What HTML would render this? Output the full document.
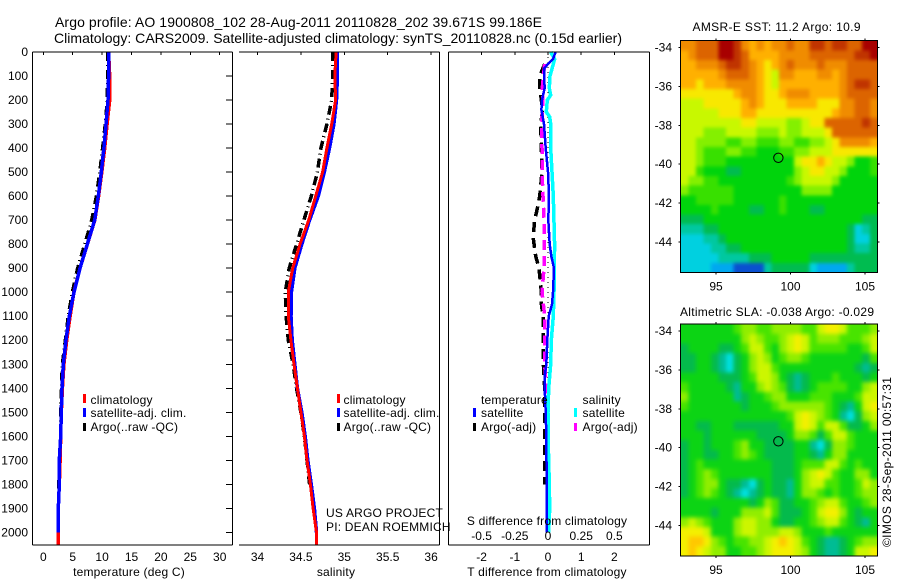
<!DOCTYPE html>
<html>
<head>
<meta charset="utf-8">
<title>Argo profile</title>
<style>
html,body{margin:0;padding:0;background:#fff;}
svg{display:block;font-family:"Liberation Sans",sans-serif;font-size:12px;fill:#000;}
.wide{letter-spacing:0.2px;}
</style>
</head>
<body>
<svg id="chart" xmlns="http://www.w3.org/2000/svg" width="900" height="580" viewBox="0 0 900 580">
<rect x="0" y="0" width="900" height="580" fill="#fff"/>
<text x="55" y="27" font-size="14" textLength="487" lengthAdjust="spacing">Argo profile: AO 1900808_102 28-Aug-2011 20110828_202 39.671S 99.186E</text>
<text x="54" y="43" font-size="14" textLength="568" lengthAdjust="spacing">Climatology: CARS2009. Satellite-adjusted climatology: synTS_20110828.nc (0.15d earlier)</text>
<g id="plots"></g>
<text class="wide" x="129" y="576" text-anchor="middle">temperature (deg C)</text>
<text class="wide" x="336" y="576" text-anchor="middle">salinity</text>
<text class="wide" x="547" y="576" text-anchor="middle">T difference from climatology</text>
<text class="wide" x="547" y="525" text-anchor="middle">S difference from climatology</text>

<g class="wide">
<rect x="83" y="394" width="3" height="9" fill="#ff0000"/>
<text x="90.5" y="404">climatology</text>
<rect x="83" y="408" width="3" height="9" fill="#0000ff"/>
<text x="90.5" y="417">satellite-adj. clim.</text>
<rect x="83" y="423" width="3" height="8" fill="#000"/>
<text x="90.5" y="431">Argo(..raw -QC)</text>
</g>
<g class="wide">
<rect x="337" y="394" width="3" height="9" fill="#ff0000"/>
<text x="343.5" y="404">climatology</text>
<rect x="337" y="408" width="3" height="9" fill="#0000ff"/>
<text x="343.5" y="417">satellite-adj. clim.</text>
<rect x="337" y="423" width="3" height="8" fill="#000"/>
<text x="343.5" y="431">Argo(..raw -QC)</text>
</g>
<g class="wide">
<text x="481" y="404">temperature</text>
<text x="582.5" y="404">salinity</text>
<rect x="473" y="408" width="3" height="9" fill="#0000ff"/>
<text x="481" y="417">satellite</text>
<rect x="473" y="423" width="3" height="8" fill="#000"/>
<text x="481" y="431">Argo(-adj)</text>
<rect x="574" y="408" width="3" height="9" fill="#00ffff"/>
<text x="582.5" y="417">satellite</text>
<rect x="574" y="423" width="3" height="8" fill="#ff00ff"/>
<text x="582.5" y="431">Argo(-adj)</text>
</g>
<text class="wide" x="326" y="517">US ARGO PROJECT</text>
<text class="wide" x="326" y="531">PI: DEAN ROEMMICH</text>
<text x="692.5" y="31" textLength="168" lengthAdjust="spacing">AMSR-E SST: 11.2 Argo: 10.9</text>
<text x="680" y="316" textLength="194" lengthAdjust="spacing">Altimetric SLA: -0.038 Argo: -0.029</text>
<text transform="translate(891,547) rotate(-90)" textLength="170" lengthAdjust="spacing">©IMOS 28-Sep-2011 00:57:31</text>
</svg>
<script>
// ---- profile data ----
const depthTicks = [0,100,200,300,400,500,600,700,800,900,1000,1100,1200,1300,1400,1500,1600,1700,1800,1900,2000];
const tempTicks = [0,5,10,15,20,25,30];
const salTicks = [34,34.5,35,35.5,36];
const salTickLabels = ['34','34.5','35','35.5','36'];
const tDiffTicks = [-2,-1,0,1,2];
const sDiffTicks = [-0.5,-0.25,0,0.25,0.5];
const sDiffTickLabels = ['-0.5','-0.25','0','0.25','0.5'];

const profileDepths = [0,100,200,300,400,500,600,700,800,900,1000,1100,1200,1300,1400,1500,1600,1700,1800,1900,2000,2050];
const tempClim = [11.1,11.3,11.3,10.85,10.45,9.95,9.4,8.75,7.5,6.25,5.2,4.55,3.98,3.5,3.25,3.06,2.96,2.85,2.72,2.55,2.55,2.55];
const tempSat = [11.17,11.1,11.0,10.66,10.3,9.87,9.36,8.74,7.49,6.24,5.22,4.43,3.86,3.4,3.18,3.06,2.96,2.72,2.72,2.55,2.55];
const tempArgo = [10.95,10.9,10.85,10.5,10.05,9.55,9.0,8.2,7.0,5.8,4.9,4.2,3.7,3.2,3.05,2.9,2.9,2.75,2.6,2.55];
const salClim = [34.905,34.89,34.9,34.855,34.80,34.75,34.67,34.59,34.49,34.405,34.355,34.355,34.385,34.42,34.46,34.50,34.54,34.57,34.61,34.64,34.68,34.68];
const salSat = [34.92,34.92,34.91,34.88,34.83,34.77,34.70,34.60,34.51,34.43,34.39,34.386,34.40,34.43,34.46,34.51,34.55,34.58,34.62,34.655,34.68];
const salArgo = [34.866,34.866,34.855,34.80,34.73,34.69,34.62,34.535,34.45,34.365,34.32,34.33,34.355,34.41,34.45,34.50,34.54,34.57,34.6];

const tSatDepths = [0,30,50,70,100,150,200,240,300,400,500,600,700,800,850,900,1000,1050,1100,1200,1300,1350,1400,1500,1600,1800,2000];
const tSatDiff = [0.23,0.15,0,-0.12,-0.12,-0.1,-0.18,-0.2,-0.12,-0.07,0,0.03,0.01,0.05,0.1,0.18,0.15,0.12,0.02,-0.02,-0.05,-0.1,-0.1,-0.07,-0.05,-0.04,-0.04];
const sSatDepths = [0,30,50,70,100,150,180,200,250,270,300,400,500,600,800,1000,1100,1200,1300,1400,1500,1600,1700,1800,1900,2000];
const sSatDiff = [0.02,0.05,0.04,0.03,0.015,0.01,0.02,-0.005,-0.0125,0.0125,0.02,0.02,0.03,0.04,0.05,0.045,0.04,0.025,0.02,0.005,0,0,0.005,0.01,0.0125,0.005];
const tArgoDepths = [50,100,150,200,250,300,400,500,600,650,700,770,850,900,1000,1050,1100,1200,1300,1400,1500,1600,1800];
const tArgoDiff = [-0.1,-0.25,-0.25,-0.2,-0.17,-0.22,-0.2,-0.18,-0.25,-0.32,-0.4,-0.45,-0.37,-0.27,-0.2,-0.2,-0.15,-0.14,-0.14,-0.1,-0.1,-0.1,-0.1];
const sArgoDepths = [50,100,150,200,250,300,400,500,600,700,800,900,1000,1100,1200,1300,1400,1500,1600];
const sArgoDiff = [-0.025,-0.035,-0.043,-0.038,-0.043,-0.05,-0.045,-0.045,-0.038,-0.03,-0.03,-0.03,-0.045,-0.025,-0.025,-0.025,-0.0125,-0.0075,-0.005];
const zeroLineDepths = [0,1400];
const zeroLineValues = [0,0];

// ---- map data (colour levels) ----
const lonTicks = [95,100,105];
const latTicks = [-34,-36,-38,-40,-42,-44];
const mapLonEdges = [92.63,105.83];
const mapLatEdges = [-33.65,-45.57];
const argoLon = [99.186];
const argoLat = [-39.671];
const sstLevels = [
[11,11,12,12,12,14,14,13,11,10,11,10,11,11,12,11,11,13,13,12,13,13,12,12,14,14],
[10,11,12,12,12,14,14,13,12,10,10,10,10,11,11,11,11,12,12,12,12,12,12,13,13,14],
[10,10,11,11,11,12,13,13,12,11,10,9,10,11,12,11,11,11,12,11,11,11,12,12,12,12],
[10,10,10,10,10,11,12,12,12,11,10,9,8,11,11,10,10,10,11,11,10,11,12,12,12,12],
[10,10,9,10,10,10,11,11,11,11,10,9,8,10,10,10,10,10,10,10,10,11,12,13,13,12],
[9,9,9,9,9,9,9,10,11,11,10,9,9,10,11,11,11,10,10,10,10,11,12,12,12,12],
[8,8,8,9,9,9,9,9,10,11,10,9,9,9,10,10,10,10,9,9,9,11,11,12,12,11],
[8,8,8,8,8,9,9,9,10,10,9,9,9,9,9,9,9,9,9,9,10,11,11,12,12,11],
[8,8,8,8,8,8,8,8,9,9,8,8,8,8,7,7,8,9,9,12,12,12,12,12,13,12],
[8,8,8,7,7,7,8,8,8,8,7,7,7,8,7,7,8,8,8,9,12,12,12,12,12,12],
[8,8,7,7,7,7,6,6,7,7,6,6,6,7,7,6,6,7,7,8,9,11,11,11,11,10],
[8,8,7,6,6,6,7,7,6,6,5,5,5,6,6,7,7,8,8,8,9,9,9,9,9,9],
[8,8,7,6,6,6,5,5,5,5,5,5,5,5,5,8,9,9,10,9,8,8,7,5,5,6],
[8,8,6,5,5,5,4,4,5,5,5,5,5,5,5,7,8,9,9,8,8,7,5,5,5,6],
[8,7,7,6,6,5,5,5,5,5,5,5,5,5,6,7,8,8,8,8,7,5,5,5,5,5],
[7,6,6,6,6,6,6,5,5,5,5,5,5,5,5,5,7,7,7,7,5,5,5,5,5,5],
[5,5,6,6,6,6,6,5,5,5,5,5,5,6,5,5,5,5,5,5,5,5,5,5,5,5],
[5,5,5,5,6,5,5,5,5,4,4,5,5,6,5,5,5,4,4,5,5,5,5,5,5,5],
[4,4,4,5,5,5,5,5,5,5,5,5,5,5,5,5,5,5,5,5,5,5,5,5,4,4],
[3,3,3,4,4,5,5,5,5,5,5,5,5,5,5,5,5,5,5,5,5,5,4,2,3,4],
[2,2,2,3,3,4,5,5,5,5,5,5,5,5,5,5,5,5,5,5,5,5,4,2,2,4],
[2,2,2,2,3,3,4,4,5,5,5,5,5,5,5,5,5,5,5,5,5,5,4,3,3,4],
[2,2,2,2,2,3,3,3,3,4,4,4,5,5,5,5,5,4,4,4,4,4,4,4,4,4],
[2,2,2,2,1,1,1,0,0,0,0,3,4,4,4,4,4,2,1,1,1,1,3,4,4,4]
];
const slaLevels = [
[5,5,5,5,5,5,5,6,7,7,6,6,7,7,7,7,6,6,8,9,9,8,6,6,6,7],
[5,5,5,5,5,5,5,5,7,8,7,6,6,7,8,9,8,6,7,7,7,6,6,6,7,8],
[4,5,5,5,5,4,4,5,6,8,8,6,5,7,8,9,8,6,6,6,6,6,5,5,6,8],
[4,4,5,5,4,3,2,4,5,7,8,7,5,6,7,7,6,5,5,5,5,5,5,5,4,6],
[4,4,5,5,4,3,2,4,5,7,8,8,6,5,5,5,5,5,5,5,5,5,5,4,3,4],
[5,5,5,5,5,4,4,4,5,6,8,8,7,5,4,3,4,5,5,5,6,5,5,5,4,5],
[6,5,5,5,5,5,4,3,5,5,7,8,7,6,4,3,4,5,6,6,6,6,5,5,7,8],
[7,5,5,5,5,5,5,3,4,5,5,6,7,7,5,5,5,6,6,6,5,5,5,6,8,8],
[6,5,5,5,5,5,5,5,4,5,5,5,6,7,7,7,7,7,7,6,5,4,3,5,8,9],
[5,5,5,5,5,5,5,5,5,5,5,5,5,5,6,8,9,8,7,6,5,3,2,4,7,8],
[5,5,4,4,5,5,5,4,4,4,4,4,4,5,5,8,9,8,6,8,8,6,4,4,5,7],
[5,5,5,4,5,5,5,5,5,5,4,4,4,4,5,7,7,6,4,6,8,8,6,5,5,5],
[4,5,5,4,5,5,5,6,7,5,5,4,4,4,4,5,5,3,2,4,7,7,6,5,5,5],
[4,5,5,4,4,5,5,6,7,6,5,4,4,4,4,5,5,4,3,5,7,7,5,5,5,5],
[4,5,6,5,5,5,5,5,5,5,5,5,4,4,4,5,6,6,6,8,8,6,5,6,5,5],
[4,5,6,7,6,5,5,5,5,5,5,5,4,4,4,5,7,8,9,8,6,5,5,7,7,5],
[4,5,6,7,7,5,4,4,3,2,4,5,4,4,3,5,7,8,8,6,6,5,5,6,8,7],
[4,5,6,7,6,5,4,3,2,3,4,5,4,4,3,5,7,7,6,5,6,5,5,6,7,7],
[5,5,5,5,5,5,5,5,5,4,5,7,6,4,4,5,5,6,7,8,8,6,5,5,6,7],
[5,5,5,5,4,5,5,5,7,7,7,8,6,4,4,4,5,6,8,9,9,7,5,4,5,5],
[7,8,7,6,5,5,5,7,8,8,7,7,5,4,4,5,5,6,7,8,8,6,5,4,3,5],
[9,9,9,8,5,5,5,7,8,8,7,7,7,8,8,7,5,5,5,6,5,5,5,5,5,5],
[9,10,10,9,7,6,5,6,6,7,7,8,9,10,9,8,6,5,4,3,3,4,5,6,7,7],
[9,10,9,8,7,7,5,5,6,6,7,8,9,9,9,8,7,5,4,3,3,4,5,8,8,9]
];

// ---- axis functions ----
const PANEL_TOP = 52, PANEL_BOTTOM = 545;
const yDepth = d => 52 + d * 0.2402;
const xTemp = t => 43.3 + t * 5.88;
const xSal = s => 257.5 + (s - 34) * 86.8;
const xTDiff = t => 548 + t * 33.2;
const xSDiff = s => 548 + s * 132.8;
const xLon = lon => 716 + (lon - 95) * 14.9;
const yLatSst = lat => 47.5 + (-34 - lat) * 19.45;
const yLatSla = lat => 331 + (-34 - lat) * 19.45;

const levelColors = ['#0a50d0','#00a8f0','#00d0e0','#00c8a0','#00bc50','#00d40c','#38e000','#84f000','#c8f800','#f8e800','#ffb000','#f08c00','#dc6400','#c03400','#a80000'];
const slaColors = ['#0a50d0','#00a8f0','#00e0e0','#00bc94','#04ba4c','#0cd414','#48e400','#90ee00','#ccf600','#f4f000','#ffc800'];

const NS = 'http://www.w3.org/2000/svg';
const root = document.getElementById('plots');

function mk(tag, attrs, parent) {
  const el = document.createElementNS(NS, tag);
  for (const k in attrs) el.setAttribute(k, attrs[k]);
  (parent || root).appendChild(el);
  return el;
}
function seg(x1, y1, x2, y2, name, parent) {
  const el = mk('line', {x1: x1, y1: y1, x2: x2, y2: y2, stroke: '#000', 'stroke-width': 1, 'shape-rendering': 'crispEdges'}, parent);
  
  
  return el;
}
function label(x, y, str, anchor, name, parent) {
  const el = mk('text', {x: x, y: y, 'text-anchor': anchor}, parent);
  el.textContent = str;
  
  
  return el;
}
function series(xs, depths, xScale, color, width, dash, name) {
  const pts = xs.map((v, i) => xScale(v).toFixed(1) + ',' + yDepth(depths[i]).toFixed(1)).join(' ');
  const el = mk('polyline', {points: pts, fill: 'none', stroke: color, 'stroke-width': width, 'shape-rendering': 'crispEdges'});
  if (dash) el.setAttribute('stroke-dasharray', dash);
  
  
  return el;
}

// ---- profile panels: marks first, frames above ----
series(tempArgo, profileDepths, xTemp, '#000', 3, '9 4 1 4', 'temperature-argo-line');
series(tempClim, profileDepths, xTemp, '#ff0000', 3.5, null, 'temperature-climatology-line');
series(tempSat, profileDepths, xTemp, '#0000ff', 3.5, null, 'temperature-satellite-line');

series(salArgo, profileDepths, xSal, '#000', 3.5, '9 4 1 4', 'salinity-argo-line');
series(salSat, profileDepths, xSal, '#0000ff', 3.5, null, 'salinity-satellite-line');
series(salClim, profileDepths, xSal, '#ff0000', 3, null, 'salinity-climatology-line');

series(zeroLineValues, zeroLineDepths, xTDiff, '#000', 1, '1 4', 'zero-difference-line');
series(tArgoDiff, tArgoDepths, xTDiff, '#000', 3.5, '10 6', 't-difference-argo-line');
series(sArgoDiff, sArgoDepths, xSDiff, '#ff00ff', 3.5, '10 6', 's-difference-argo-line');
series(sSatDiff, sSatDepths, xSDiff, '#00ffff', 3.5, null, 's-difference-satellite-line');
series(tSatDiff, tSatDepths, xTDiff, '#0000ff', 2.5, null, 't-difference-satellite-line');

// panel frames
seg(32.5, PANEL_TOP, 32.5, PANEL_BOTTOM, 'temperature-left-axis');
seg(32.5, PANEL_TOP, 232.5, PANEL_TOP, 'temperature-top-axis');
seg(32.5, PANEL_BOTTOM, 232.5, PANEL_BOTTOM, 'temperature-bottom-axis');
seg(232.5, PANEL_TOP, 232.5, PANEL_BOTTOM, 'temperature-right-axis');
seg(239, PANEL_TOP, 439.5, PANEL_TOP, 'salinity-top-axis');
seg(239, PANEL_BOTTOM, 439.5, PANEL_BOTTOM, 'salinity-bottom-axis');
seg(439.5, PANEL_TOP, 439.5, PANEL_BOTTOM, 'salinity-right-axis');
seg(448.5, PANEL_TOP, 448.5, PANEL_BOTTOM, 'difference-left-axis');
seg(448.5, PANEL_TOP, 649.5, PANEL_TOP, 'difference-top-axis');
seg(448.5, PANEL_BOTTOM, 649.5, PANEL_BOTTOM, 'difference-bottom-axis');
seg(649.5, PANEL_TOP, 649.5, PANEL_BOTTOM, 'difference-right-axis');

// depth ticks
depthTicks.forEach(d => {
  const y = yDepth(d);
  label(28, y + 4, String(d), 'end', 'depth-tick-label');
  seg(226, y, 232, y, 'depth-tick-mark');
});
// temperature ticks
tempTicks.forEach(t => {
  const x = xTemp(t);
  label(x, 561, String(t), 'middle', 'temperature-tick-label');
  seg(x, PANEL_TOP, x, PANEL_TOP + 3, 'temperature-tick-mark');
});
// salinity ticks
salTicks.forEach((s, i) => {
  const x = xSal(s);
  label(x, 561, salTickLabels[i], 'middle', 'salinity-tick-label');
  seg(x, PANEL_TOP, x, PANEL_TOP + 3, 'salinity-tick-mark');
});
// difference ticks
tDiffTicks.forEach(t => {
  const x = xTDiff(t);
  label(x, 561, String(t), 'middle', 't-difference-tick-label');
  seg(x, PANEL_TOP, x, PANEL_TOP + 3, 'difference-tick-mark');
});
sDiffTicks.forEach((s, i) => {
  label(xSDiff(s), 540, sDiffTickLabels[i], 'middle', 's-difference-tick-label');
});

// ---- maps ----
function drawMap(levels, colors, yLat, name, blur) {
  const g = mk('g', {});
  
  
  const rows = levels.length, cols = levels[0].length;
  const lonStep = (mapLonEdges[1] - mapLonEdges[0]) / cols;
  const latStep = (mapLatEdges[1] - mapLatEdges[0]) / rows;
  const left = xLon(mapLonEdges[0]), right = xLon(mapLonEdges[1]);
  const top = yLat(mapLatEdges[0]), bottom = yLat(mapLatEdges[1]);
  const pad = 14;

  const defs = mk('defs', {}, g);
  const clip = mk('clipPath', {id: name + '-clip'}, defs);
  mk('rect', {x: left, y: top, width: right - left, height: bottom - top}, clip);
  const filter = mk('filter', {id: name + '-smooth', filterUnits: 'userSpaceOnUse', x: left - pad, y: top - pad, width: right - left + 2 * pad, height: bottom - top + 2 * pad, 'color-interpolation-filters': 'sRGB'}, defs);
  mk('feGaussianBlur', {stdDeviation: blur}, filter);

  const clipGroup = mk('g', {'clip-path': 'url(#' + name + '-clip)'}, g);
  
  
  const cellGroup = mk('g', {filter: 'url(#' + name + '-smooth)'}, clipGroup);

  levels.forEach((row, r) => {
    row.forEach((v, c) => {
      let x0 = xLon(mapLonEdges[0] + c * lonStep);
      let x1 = xLon(mapLonEdges[0] + (c + 1) * lonStep) + 0.5;
      let y0 = yLat(mapLatEdges[0] + r * latStep);
      let y1 = yLat(mapLatEdges[0] + (r + 1) * latStep) + 0.5;
      if (c === 0) x0 -= pad;
      if (c === cols - 1) x1 += pad;
      if (r === 0) y0 -= pad;
      if (r === rows - 1) y1 += pad;
      const cell = mk('rect', {x: x0.toFixed(2), y: y0.toFixed(2), width: (x1 - x0).toFixed(2), height: (y1 - y0).toFixed(2), fill: colors[v], 'shape-rendering': 'crispEdges'}, cellGroup);
      
      
    });
  });

  const frame = mk('rect', {x: left, y: top, width: right - left, height: bottom - top, fill: 'none', stroke: '#000', 'stroke-width': 1, 'shape-rendering': 'crispEdges'}, g);
  
  
  lonTicks.forEach(lon => {
    const x = xLon(lon);
    seg(x, top - 2, x, top, name + '-lon-tick-top', g);
    seg(x, bottom, x, bottom + 2, name + '-lon-tick-bottom', g);
    label(x, bottom + 18, String(lon), 'middle', name + '-lon-label', g);
  });
  latTicks.forEach(lat => {
    const y = yLat(lat);
    seg(left - 2, y, left, y, name + '-lat-tick-left', g);
    seg(right, y, right + 2, y, name + '-lat-tick-right', g);
    label(672, y + 4, String(lat), 'end', name + '-lat-label', g);
  });
  const marker = mk('circle', {cx: xLon(argoLon[0]), cy: yLat(argoLat[0]), r: 4.7, fill: 'none', stroke: '#000', 'stroke-width': 1}, g);
  
  
}
drawMap(sstLevels, levelColors, yLatSst, 'sst-map', 1.8);
drawMap(slaLevels, slaColors, yLatSla, 'sla-map', 2.2);
</script>
</body>
</html>
